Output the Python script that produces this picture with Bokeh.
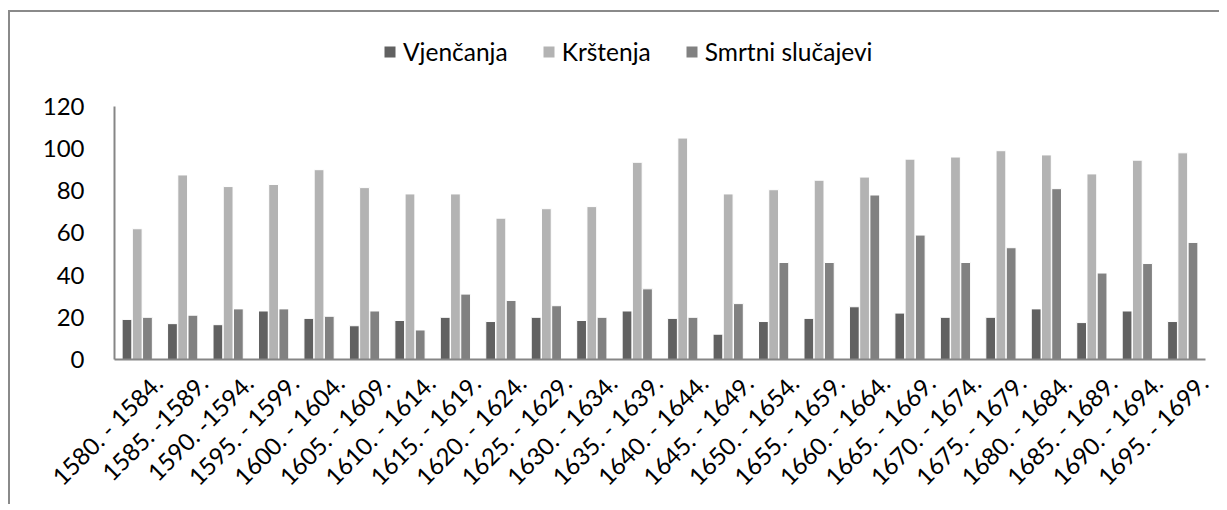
import math
from bokeh.plotting import figure
from bokeh.models import (ColumnDataSource, Legend, LegendItem, LinearAxis,
                          Range1d, FixedTicker)
from bokeh.transform import dodge
from bokeh.embed import file_html
from bokeh.resources import INLINE

periods = ["1580. - 1584.", "1585. -1589.", "1590. -1594.", "1595. - 1599.", "1600. - 1604.",
           "1605. - 1609.", "1610. - 1614.", "1615. - 1619.", "1620. - 1624.", "1625. - 1629.",
           "1630. - 1634.", "1635. - 1639.", "1640. - 1644.", "1645. - 1649.", "1650. - 1654.",
           "1655. - 1659.", "1660. - 1664.", "1665. - 1669.", "1670. - 1674.", "1675. - 1679.",
           "1680. - 1684.", "1685. - 1689.", "1690. - 1694.", "1695. - 1699."]
vjencanja = [19, 17, 16.5, 23, 19.5, 16, 18.5, 20, 18, 20, 18.5, 23, 19.5, 12, 18, 19.5,
             25, 22, 20, 20, 24, 17.5, 23, 18]
krstenja = [62, 87.5, 82, 83, 90, 81.5, 78.5, 78.5, 67, 71.5, 72.5, 93.5, 105, 78.5, 80.5, 85,
            86.5, 95, 96, 99, 97, 88, 94.5, 98]
smrtni = [20, 21, 24, 24, 20.5, 23, 14, 31, 28, 25.5, 20, 33.5, 20, 26.5, 46, 46,
          78, 59, 46, 53, 81, 41, 45.5, 55.5]
series_names = ["Vjenčanja", "Krštenja", "Smrtni slučajevi"]
y_ticks = [0, 20, 40, 60, 80, 100, 120]

colors = ["#616161", "#b3b3b3", "#818181"]
FONT = "Lato"

n = len(periods)
centers = [i + 0.5 for i in range(n)]
src = ColumnDataSource(dict(xc=centers, v=vjencanja, k=krstenja, s=smrtni))

p = figure(x_range=Range1d(0, n), y_range=(0, 156),
           width=1211, height=494, output_backend="svg", toolbar_location=None,
           min_border_left=104, min_border_right=16, min_border_top=18, min_border_bottom=147)

bw = 0.215
r1 = p.vbar(x=dodge("xc", -0.225), top="v", width=bw, source=src,
            fill_color=colors[0], line_color="white", line_width=1)
r2 = p.vbar(x=dodge("xc", 0.0), top="k", width=bw, source=src,
            fill_color=colors[1], line_color="white", line_width=1)
r3 = p.vbar(x=dodge("xc", 0.225), top="s", width=bw, source=src,
            fill_color=colors[2], line_color="white", line_width=1)

legend = Legend(items=[LegendItem(label=series_names[0], renderers=[r1]),
                       LegendItem(label=series_names[1], renderers=[r2]),
                       LegendItem(label=series_names[2], renderers=[r3])],
                orientation="horizontal", location=(268, 293),
                label_text_font=FONT, label_text_font_size="24.5px", label_text_color="#000000",
                label_height=28, glyph_width=15, glyph_height=15, spacing=33, label_standoff=6,
                border_line_color=None, background_fill_alpha=0, padding=0, margin=0)
p.add_layout(legend, "center")

p.xgrid.grid_line_color = None
p.ygrid.grid_line_color = None
p.outline_line_color = None

p.yaxis.ticker = y_ticks
p.yaxis.bounds = (0, 120)
p.yaxis.axis_line_color = "#868686"
p.yaxis.axis_line_width = 2
p.yaxis.major_tick_line_color = None
p.yaxis.minor_tick_line_color = None
p.yaxis.major_label_text_font = FONT
p.yaxis.major_label_text_font_size = "24px"
p.yaxis.major_label_text_color = "#000000"
p.yaxis.major_label_standoff = 24

# main x axis: line only
p.xaxis.ticker = FixedTicker(ticks=[], minor_ticks=[])
p.xaxis.axis_line_color = "#868686"
p.xaxis.axis_line_width = 2
p.xaxis.major_tick_line_color = None
p.xaxis.minor_tick_line_color = None
p.xaxis.major_tick_out = 0
p.xaxis.major_label_standoff = 0
p.xaxis.major_label_text_font_size = "0px"

# label axis, slightly shifted so that rotated labels sit like the original
shift = 0.45
p.extra_x_ranges = {"lab": Range1d(-0.5 - shift, n - 0.5 - shift)}
tick_pos = list(range(n))
lab_axis = LinearAxis(x_range_name="lab", ticker=FixedTicker(ticks=tick_pos, minor_ticks=[]),
                      major_label_overrides={t: lab for t, lab in zip(tick_pos, periods)})
lab_axis.axis_line_color = None
lab_axis.major_tick_line_color = None
lab_axis.minor_tick_line_color = None
lab_axis.major_tick_out = 0
lab_axis.major_label_orientation = math.pi / 4
lab_axis.major_label_text_font = FONT
lab_axis.major_label_text_font_size = "24px"
lab_axis.major_label_text_color = "#000000"
lab_axis.major_label_standoff = 19
p.add_layout(lab_axis, "below")

p.styles = {"margin-left": "8px", "margin-top": "10px",
            "border-left": "2px solid #8a8a8a", "border-top": "2px solid #8a8a8a"}

open("out.html", "w").write(file_html(p, INLINE))
